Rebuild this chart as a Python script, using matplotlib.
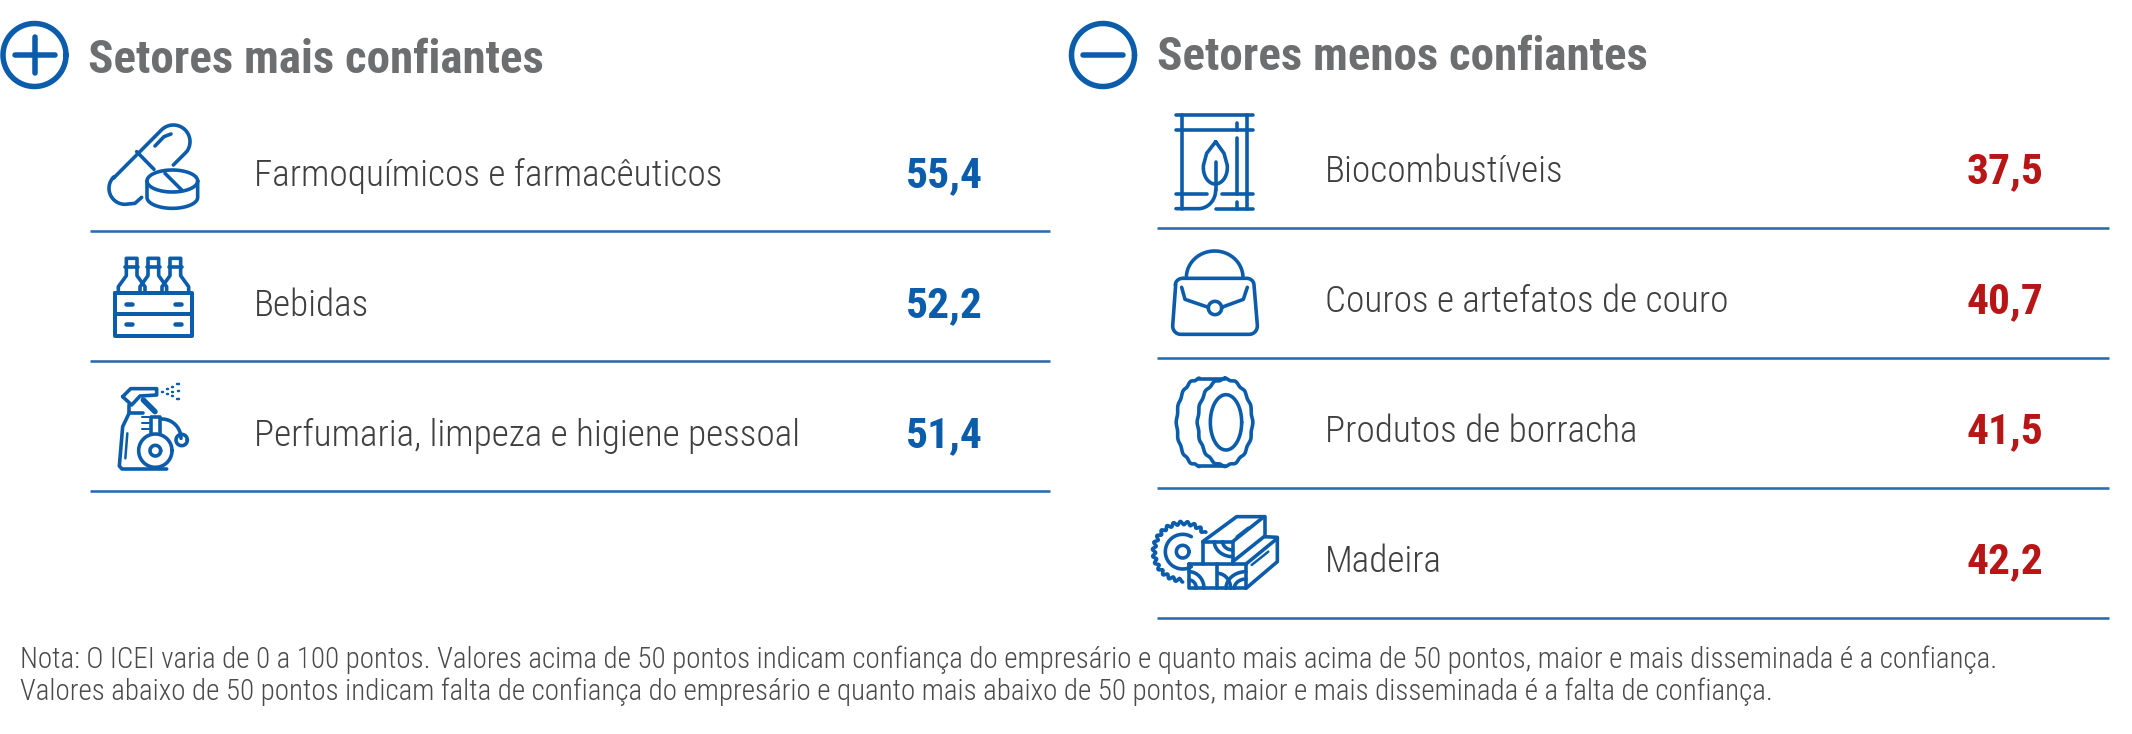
import matplotlib
matplotlib.use('Agg')
import matplotlib.pyplot as plt
import numpy as np

# dados
setores_mais = ['Farmoquímicos e farmacêuticos', 'Bebidas', 'Perfumaria, limpeza e higiene pessoal']
valores_mais = [55.4, 52.2, 51.4]
setores_menos = ['Biocombustíveis', 'Couros e artefatos de couro', 'Produtos de borracha', 'Madeira']
valores_menos = [37.5, 40.7, 41.5, 42.2]
titulo_mais = 'Setores mais confiantes'
titulo_menos = 'Setores menos confiantes'
nota = ['Nota: O ICEI varia de 0 a 100 pontos. Valores acima de 50 pontos indicam confiança do empresário e quanto mais acima de 50 pontos, maior e mais disseminada é a confiança.',
        'Valores abaixo de 50 pontos indicam falta de confiança do empresário e quanto mais abaixo de 50 pontos, maior e mais disseminada é a falta de confiança.']

AZUL = '#0b5cab'
LINHA = '#2a6cb4'
VERMELHO = '#b81616'
CINZA = '#6d6e70'
TEXTO = '#4a4a4a'
FONTE = ['Liberation Sans Narrow', 'Roboto Condensed', 'Liberation Sans']
PX = 72 / 100  # pontos por pixel com dpi 100

plt.rcParams['font.family'] = FONTE

fig = plt.figure(figsize=(21.32, 7.34), dpi=100, facecolor='white')
ax = fig.add_axes([0, 0, 1, 1])
ax.set_xlim(0, 2132)
ax.set_ylim(734, 0)
ax.axis('off')


def arco(cx, cy, rx, ry, a0, a1, n=40):
    t = np.radians(np.linspace(a0, a1, n))
    return list(zip(cx + rx * np.cos(t), cy + ry * np.sin(t)))


# os icones sao desenhados nas coordenadas do recorte (3x)
def traco(ox, oy, pts, lw=3.6, s=3.0):
    pts = np.array(pts, dtype=float)
    ax.plot(ox + pts[:, 0] / s, oy + pts[:, 1] / s, color=AZUL, lw=lw * PX,
            solid_capstyle='round', solid_joinstyle='round')


def pilula(ox, oy):
    corpo = [(250, 165), (285, 130)] + arco(250, 95, 50, 50, 35, -135) + [(70, 205)] \
        + arco(105, 235, 48, 48, 225, 90, 30) + [(135, 280), (155, 262)]
    traco(ox, oy, corpo)
    traco(ox, oy, [(140, 125), (192, 178)])
    traco(ox, oy, [(195, 108), (222, 80), (243, 72)])
    traco(ox, oy, arco(247, 213, 76, 33, 0, 360, 60))
    traco(ox, oy, [(225, 190), (275, 240)])
    traco(ox, oy, [(171, 213), (171, 262)] + arco(247, 262, 76, 33, 180, 0) + [(323, 213)])


def caixa(ox, oy):
    traco(ox, oy, [(75, 550), (305, 550), (305, 677), (75, 677), (75, 550)], 4)
    traco(ox, oy, [(75, 612), (305, 612)], 4)
    for x in (117, 265):
        for y in (582, 643):
            traco(ox, oy, [(x - 9, y), (x + 9, y)], 4.5)
    for cx in (125, 190, 256):
        traco(ox, oy, [(cx - 40, 548), (cx - 40, 530), (cx - 16, 497), (cx - 16, 445), (cx + 16, 445),
                       (cx + 16, 497), (cx + 40, 530), (cx + 40, 548)])
        traco(ox, oy, [(cx - 20, 470), (cx + 20, 470)])


def spray(ox, oy):
    traco(ox, oy, [(98, 860), (122, 836), (200, 836), (200, 855), (150, 858), (125, 885), (98, 860)])
    traco(ox, oy, [(118, 885), (118, 908), (160, 908)])
    traco(ox, oy, [(118, 908), (98, 950), (88, 1068), (96, 1077), (230, 1077)])
    traco(ox, oy, [(160, 870), (195, 905)], 5.5)
    traco(ox, oy, [(112, 970), (106, 1045)], 2.5)
    traco(ox, oy, arco(196, 1022, 50, 50, 0, 360, 60))
    traco(ox, oy, arco(196, 1022, 16, 16, 0, 360, 30))
    traco(ox, oy, [(183, 970), (183, 920), (210, 920), (210, 970)])
    traco(ox, oy, arco(215, 985, 58, 58, -90, 0))
    traco(ox, oy, arco(275, 990, 17, 17, 0, 360, 30))
    for y in (920, 938, 956):
        traco(ox, oy, [(155, y), (178, y)], 2)
    for x, y in [(218, 845), (232, 838), (232, 853), (248, 830), (248, 845), (248, 858),
                 (264, 822), (266, 844), (264, 866)]:
        traco(ox, oy, [(x - 2, y), (x + 2, y)], 2.5)


def barril(ox, oy):
    for y, a, b in [(46, 108, 340), (91, 108, 340), (282, 108, 200), (282, 245, 340),
                    (326, 228, 340)]:
        traco(ox, oy, [(a, y), (b, y)])
    traco(ox, oy, [(108, 326), (175, 326)] + arco(175, 270, 52, 56, 90, 0, 20))
    for x, a, b in [(125, 46, 326), (322, 46, 326), (292, 68, 91), (292, 115, 282), (292, 305, 326)]:
        traco(ox, oy, [(x, a), (x, b)])
    folha = [(227, 125), (200, 160)] + arco(226, 203, 36, 49, 190, 90, 15) \
        + arco(226, 203, 36, 49, 90, -10, 15) + [(252, 160), (227, 125)]
    traco(ox, oy, folha)
    traco(ox, oy, [(227, 185), (227, 270)])


def bolsa(ox, oy):
    traco(ox, oy, arco(224, 533, 85, 80, 180, 360))
    traco(ox, oy, [(130, 535), (320, 535)] + arco(320, 555, 22, 20, -90, 0, 10) + [(352, 675)]
          + arco(328, 678, 24, 25, 0, 90, 10) + [(122, 703)] + arco(122, 678, 24, 25, 90, 180, 10)
          + [(107, 555)] + arco(128, 555, 22, 20, 180, 270, 10))
    traco(ox, oy, [(125, 562), (135, 598), (205, 622)])
    traco(ox, oy, [(322, 562), (310, 598), (245, 622)])
    traco(ox, oy, arco(225, 624, 20, 20, 0, 360, 30))


def pneu(ox, oy):
    t = np.linspace(-np.pi / 2, 1.5 * np.pi, 240)
    ond = 1 + 0.02 * np.cos(16 * t)
    traco(ox, oy, list(zip(255 + 82 * ond * np.cos(t), 187 + 130 * ond * np.sin(t))))
    t = np.linspace(np.pi / 2, 1.5 * np.pi, 120)
    ond = 1 + 0.02 * np.cos(16 * t)
    traco(ox, oy, list(zip(178 + 68 * ond * np.cos(t), 187 + 130 * ond * np.sin(t))))
    traco(ox, oy, [(178, 57), (255, 57)])
    traco(ox, oy, [(178, 317), (255, 317)])
    traco(ox, oy, arco(258, 187, 47, 83, 0, 360, 60))


def madeira(ox, oy):
    t = np.radians(np.linspace(-40, -270, 260))
    raio = 86 + 5 * np.cos(np.linspace(0, 34 * np.pi, 260))
    traco(ox, oy, list(zip(128 + raio * np.cos(t), 575 + raio * np.sin(t))))
    traco(ox, oy, arco(128, 575, 19, 19, 0, 360, 30))
    traco(ox, oy, arco(128, 575, 52, 52, 60, 300))
    traco(ox, oy, [(147, 612), (318, 612), (318, 685), (147, 685), (147, 612)])
    traco(ox, oy, [(232, 612), (232, 685)])
    traco(ox, oy, [(188, 612), (188, 545), (278, 545), (278, 612)])
    traco(ox, oy, [(188, 545), (290, 470), (375, 470), (375, 530)])
    traco(ox, oy, [(278, 545), (372, 470)])
    traco(ox, oy, [(278, 605), (372, 530), (412, 532), (412, 605), (318, 685)])
    traco(ox, oy, [(318, 612), (412, 535)])
    traco(ox, oy, arco(278, 545, 55, 45, 90, 180, 12))
    traco(ox, oy, arco(278, 545, 30, 25, 90, 180, 12))
    traco(ox, oy, arco(147, 685, 45, 50, -90, 0, 12))
    traco(ox, oy, arco(147, 685, 22, 25, -90, 0, 12))
    traco(ox, oy, arco(318, 685, 60, 50, 180, 270, 12))
    traco(ox, oy, arco(318, 685, 35, 28, 180, 270, 12))
    traco(ox, oy, arco(232, 685, 40, 45, 270, 360, 12))
    traco(ox, oy, [(290, 530), (325, 503)], 2.5)
    traco(ox, oy, [(335, 615), (385, 575)], 2.5)


def cabecalho(cx, cy, rx, ry, titulo, tx, ty, mais):
    traco(0, 0, arco(cx, cy, rx, ry, 0, 360, 90), 5.5, 1)
    traco(0, 0, [(cx - 20, cy), (cx + 20, cy)], 5.5, 1)
    if mais:
        traco(0, 0, [(cx, cy - 18), (cx, cy + 18)], 5.5, 1)
    ax.text(tx, ty, titulo, fontsize=47 * PX, fontweight='bold', color=CINZA, ha='left', va='baseline')


def fmt(v):
    return f'{v:.1f}'.replace('.', ',')


def bloco(setores, valores, x0, x1, xt, xv, y0, dy_l, cor):
    for i, (nome, v) in enumerate(zip(setores, valores)):
        y = y0 + 130 * i
        ax.text(xt, y - dy_l, nome, fontsize=37.3 * PX, fontweight=300, color='#3f3f3f', ha='left', va='baseline')
        ax.text(xv, y - 44, fmt(v), fontsize=43.5 * PX, fontweight='bold', color=cor, ha='center', va='baseline')
        ax.plot([x0, x1], [y, y], color=LINHA, lw=2.6 * PX, solid_capstyle='butt')


cabecalho(34.5, 55, 31.5, 31.5, titulo_mais, 88, 73, True)
cabecalho(1103, 55, 31.5, 31.5, titulo_menos, 1157, 70, False)

bloco(setores_mais, valores_mais, 90, 1050, 254, 944, 231, 45.5, AZUL)
bloco(setores_menos, valores_menos, 1157, 2109, 1325, 2005, 227.5, 45, VERMELHO)

pilula(90, 110)
caixa(90, 110)
spray(90, 110)
barril(1140, 100)
bolsa(1140, 100)
pneu(1140, 360)
madeira(1140, 360)

for y, linha in zip((668, 700), nota):
    ax.text(20, y, linha, fontsize=29 * PX, fontweight=300, color=TEXTO, ha='left', va='baseline')

fig.savefig('out.png', dpi=100, facecolor='white')
